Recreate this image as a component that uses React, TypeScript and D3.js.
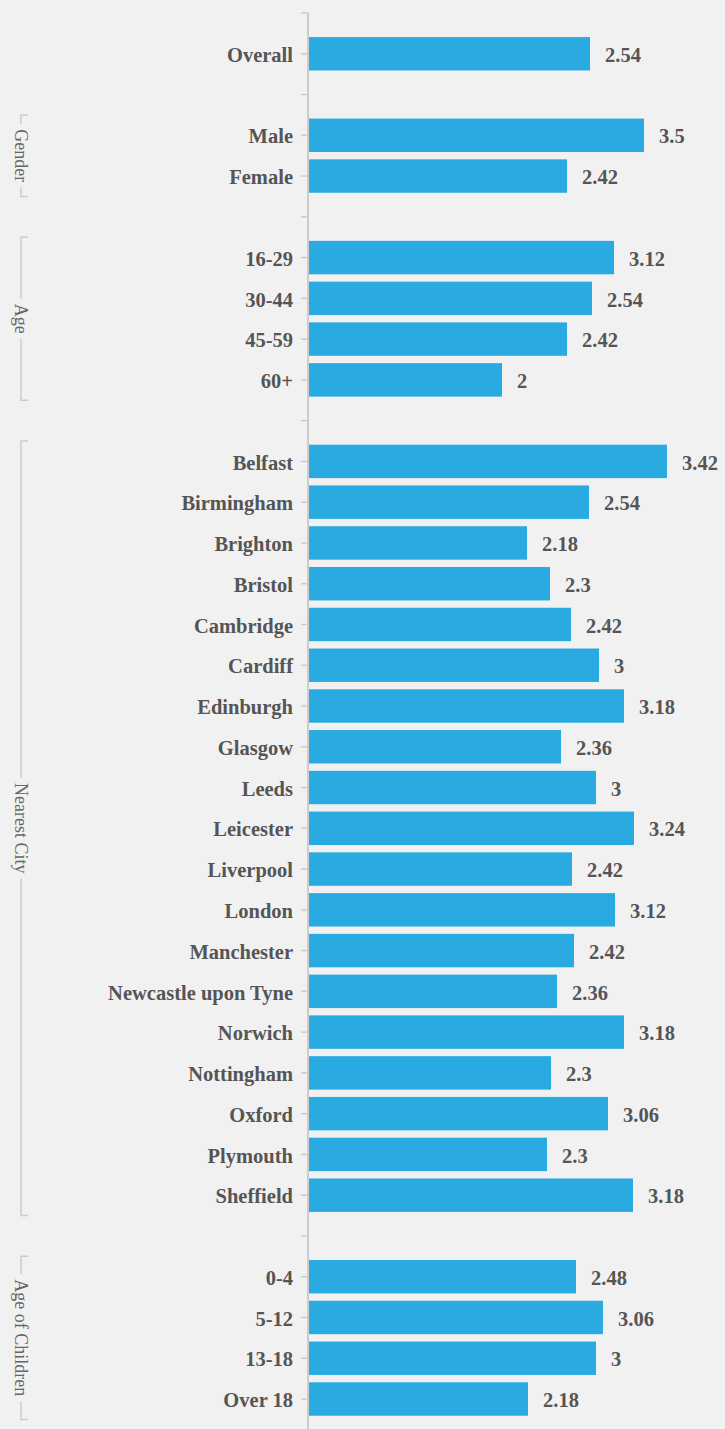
import React, { useEffect, useRef } from "react";
import * as d3 from "d3";

// Categories in display order, grouped
const groups = ["", "Gender", "Age", "Nearest City", "Age of Children"];
const overallCats = ["Overall"];
const genderCats = ["Male", "Female"];
const ageCats = ["16-29", "30-44", "45-59", "60+"];
const cityCats = [
  "Belfast", "Birmingham", "Brighton", "Bristol", "Cambridge", "Cardiff", "Edinburgh",
  "Glasgow", "Leeds", "Leicester", "Liverpool", "London", "Manchester",
  "Newcastle upon Tyne", "Norwich", "Nottingham", "Oxford", "Plymouth", "Sheffield",
];
const childCats = ["0-4", "5-12", "13-18", "Over 18"];

// Displayed value labels
const overallLabels = [2.54];
const genderLabels = [3.5, 2.42];
const ageLabels = [3.12, 2.54, 2.42, 2];
const cityLabels = [3.42, 2.54, 2.18, 2.3, 2.42, 3, 3.18, 2.36, 3, 3.24, 2.42, 3.12, 2.42, 2.36, 3.18, 2.3, 3.06, 2.3, 3.18];
const childLabels = [2.48, 3.06, 3, 2.18];

// Bar lengths as drawn in the picture (estimated)
const overallBars = [2.81];
const genderBars = [3.35, 2.58];
const ageBars = [3.05, 2.83, 2.58, 1.93];
const cityBars = [3.58, 2.8, 2.18, 2.41, 2.62, 2.9, 3.15, 2.52, 2.87, 3.25, 2.63, 3.06, 2.65, 2.48, 3.15, 2.42, 2.99, 2.38, 3.24];
const childBars = [2.67, 2.94, 2.87, 2.19];

const W = 725;
const H = 1429;
const BG = "#f1f1f1";
const BAR = "#29aae1";
const TEXT = "#555555";
const GROUP_TEXT = "#666666";
const LINE = "#cccccc";

type Row = { key: string; label?: string; group?: string; value?: number; bar?: number };

function buildRows(): Row[] {
  const rows: Row[] = [];
  const sets = [
    { g: groups[0], c: overallCats, l: overallLabels, b: overallBars },
    { g: groups[1], c: genderCats, l: genderLabels, b: genderBars },
    { g: groups[2], c: ageCats, l: ageLabels, b: ageBars },
    { g: groups[3], c: cityCats, l: cityLabels, b: cityBars },
    { g: groups[4], c: childCats, l: childLabels, b: childBars },
  ];
  sets.forEach((s, si) => {
    rows.push({ key: "gap" + si });
    s.c.forEach((c, i) => rows.push({ key: c, label: c, group: s.g, value: s.l[i], bar: s.b[i] }));
  });
  return rows;
}

export default function App() {
  const ref = useRef<SVGSVGElement | null>(null);

  useEffect(() => {
    const svg = d3.select(ref.current);
    svg.selectAll("*").remove();
    const rows = buildRows();

    const axisX = 308;
    const y = d3
      .scalePoint<string>()
      .domain(rows.map((r) => r.key))
      .range([13, 1399]);
    const step = y.step();
    const barH = step * 0.82;
    const x = d3.scaleLinear().domain([0, 4]).range([axisX + 1, axisX + 1 + 400]);

    svg.append("rect").attr("width", W).attr("height", H).attr("fill", BG);

    const font = "'Liberation Serif', 'Times New Roman', serif";

    // axis line and ticks
    svg
      .append("line")
      .attr("x1", axisX)
      .attr("x2", axisX)
      .attr("y1", 13)
      .attr("y2", H)
      .attr("stroke", LINE)
      .attr("stroke-width", 2);
    svg
      .selectAll("line.tick")
      .data(rows)
      .join("line")
      .attr("class", "tick")
      .attr("x1", axisX - 7)
      .attr("x2", axisX)
      .attr("y1", (d) => y(d.key)!)
      .attr("y2", (d) => y(d.key)!)
      .attr("stroke", LINE)
      .attr("stroke-width", 1.5);

    const data = rows.filter((r) => r.label);

    svg
      .selectAll("rect.bar")
      .data(data)
      .join("rect")
      .attr("class", "bar")
      .attr("x", x(0))
      .attr("y", (d) => y(d.key)! - barH / 2)
      .attr("width", (d) => x(d.bar!) - x(0))
      .attr("height", barH)
      .attr("fill", BAR);

    svg
      .selectAll("text.cat")
      .data(data)
      .join("text")
      .attr("class", "cat")
      .attr("x", axisX - 15)
      .attr("y", (d) => y(d.key)! + 1)
      .attr("dy", "0.35em")
      .attr("text-anchor", "end")
      .attr("font-family", font)
      .attr("font-weight", "bold")
      .attr("font-size", 20.5)
      .attr("fill", TEXT)
      .text((d) => d.label!);

    svg
      .selectAll("text.val")
      .data(data)
      .join("text")
      .attr("class", "val")
      .attr("x", (d) => x(d.bar!) + 15)
      .attr("y", (d) => y(d.key)! + 1)
      .attr("dy", "0.35em")
      .attr("font-family", font)
      .attr("font-weight", "bold")
      .attr("font-size", 20.5)
      .attr("fill", TEXT)
      .text((d) => String(d.value));

    // group brackets
    const bx = 21;
    groups.slice(1).forEach((g) => {
      const members = rows.filter((r) => r.group === g);
      const top = y(members[0].key)! - step / 2;
      const bot = y(members[members.length - 1].key)! + step / 2;
      const cy = (top + bot) / 2;
      const gg = svg.append("g");
      const t = gg
        .append("text")
        .attr("transform", `translate(${bx},${cy}) rotate(90)`)
        .attr("text-anchor", "middle")
        .attr("dy", "0.32em")
        .attr("font-family", font)
        .attr("font-size", 18)
        .attr("fill", GROUP_TEXT)
        .text(g);
      const len = (t.node() as SVGTextElement).getComputedTextLength();
      const gap = 5;
      const path = d3.path();
      path.moveTo(bx + 7, top);
      path.lineTo(bx, top);
      path.lineTo(bx, Math.max(top, cy - len / 2 - gap));
      path.moveTo(bx, Math.min(bot, cy + len / 2 + gap));
      path.lineTo(bx, bot);
      path.lineTo(bx + 7, bot);
      gg.append("path")
        .attr("d", path.toString())
        .attr("fill", "none")
        .attr("stroke", LINE)
        .attr("stroke-width", 1.5);
    });
  }, []);

  return (
    <svg
      ref={ref}
      width={W}
      height={H}
      style={{ position: "absolute", left: 0, top: 0, display: "block" }}
    />
  );
}
